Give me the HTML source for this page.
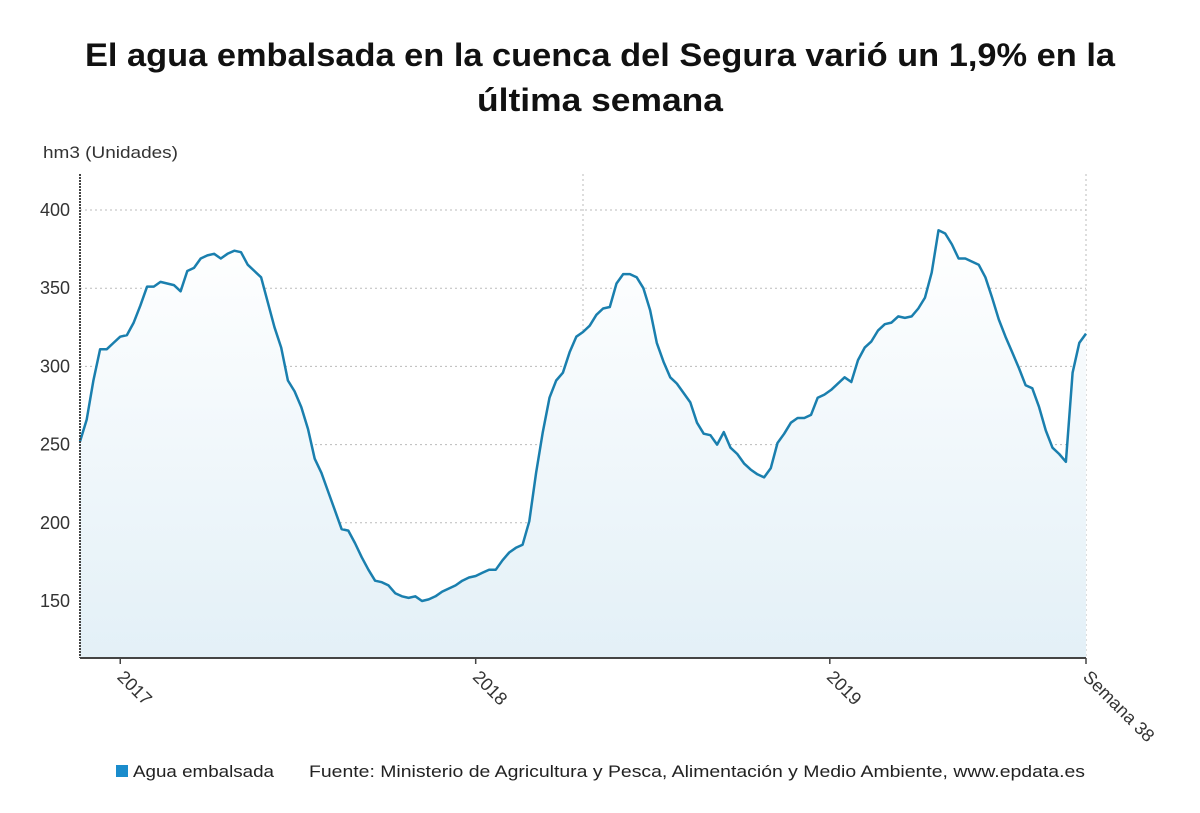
<!DOCTYPE html>
<html><head><meta charset="utf-8"><style>
body{margin:0;background:#fff;}
svg text{font-family:"Liberation Sans","DejaVu Sans",sans-serif;}
</style></head><body>
<svg id="c" width="1200" height="808" viewBox="0 0 1200 808" xmlns="http://www.w3.org/2000/svg">
<defs><linearGradient id="g" x1="0" y1="0" x2="0" y2="1"><stop offset="0" stop-color="#ffffff"/><stop offset="1" stop-color="#e3f0f7"/></linearGradient></defs>
<text x="85" y="66" textLength="1030" lengthAdjust="spacingAndGlyphs" font-size="32" font-weight="bold" fill="#111">El agua embalsada en la cuenca del Segura varió un 1,9% en la</text>
<text x="477" y="111" textLength="246" lengthAdjust="spacingAndGlyphs" font-size="32" font-weight="bold" fill="#111">última semana</text>
<text x="43" y="158" textLength="135" lengthAdjust="spacingAndGlyphs" font-size="17" fill="#333">hm3 (Unidades)</text>
<g id="grid"></g><g id="plot"></g><g id="axes"></g>
<rect x="116" y="765" width="12" height="12" fill="#1a8ccc"/>
<text x="133" y="777" textLength="141" lengthAdjust="spacingAndGlyphs" font-size="17" fill="#222">Agua embalsada</text>
<text x="309" y="777" textLength="776" lengthAdjust="spacingAndGlyphs" font-size="17" fill="#222">Fuente: Ministerio de Agricultura y Pesca, Alimentación y Medio Ambiente, www.epdata.es</text>
</svg>
<script>
const values=[252,266,291,311,311,315,319,320,328,339,351,351,354,353,352,348,361,363,369,371,372,369,372,374,373,365,361,357,341,325,312,291,284,274,260,241,232,220,208,196,195,187,178,170,163,162,160,155,153,152,153,150,151,153,156,158,160,163,165,166,168,170,170,176,181,184,186,201,232,258,280,291,296,309,319,322,326,333,337,338,353,359,359,357,350,336,315,303,293,289,283,277,264,257,256,250,258,248,244,238,234,231,229,235,251,257,264,267,267,269,280,282,285,289,293,290,304,312,316,323,327,328,332,331,332,337,344,360,387,385,378,369,369,367,365,357,344,330,319,309,299,288,286,274,259,248,244,239,296,315,321];
const yTicks=[150,200,250,300,350,400];
const xTickLabels=["2017","2018","2019","Semana 38"];
const xTickIdx=[6,59,111.8,150];
const NS="http://www.w3.org/2000/svg";
const X0=80,X1=1086,YB=658;
const n=values.length;
const xs=i=>X0+i*(X1-X0)/(n-1);
const ys=v=>601-(v-150)*(391/250);
function mk(t,a,p){const e=document.createElementNS(NS,t);for(const k in a)e.setAttribute(k,a[k]);p.appendChild(e);return e;}
const grid=document.getElementById('grid'),plot=document.getElementById('plot'),axes=document.getElementById('axes');
yTicks.forEach(v=>{
 const l=mk('line',{x1:X0,x2:X1,y1:ys(v),y2:ys(v),stroke:'#bbb','stroke-dasharray':'2,3'},grid);
 
 
 const t=mk('text',{x:70,y:ys(v)+6,'text-anchor':'end','font-size':18,fill:'#333'},axes);
 t.textContent=v;
 
 
});
[583,X1].forEach(x=>{
 const l=mk('line',{x1:x,x2:x,y1:174,y2:YB,stroke:'#bbb','stroke-dasharray':'2,3'},grid);
 
 
});
let d='';values.forEach((v,i)=>{d+=(i?'L':'M')+xs(i).toFixed(1)+','+ys(v).toFixed(1);});
const area=mk('path',{d:d+'L'+X1+','+YB+'L'+X0+','+YB+'Z',fill:'url(#g)'},plot);


const line=mk('path',{d:d,fill:'none',stroke:'#1a7fae','stroke-width':2.5,'stroke-linejoin':'round'},plot);


const ya=mk('line',{x1:X0,x2:X0,y1:174,y2:YB,stroke:'#444','stroke-width':2,'stroke-dasharray':'2,1'},axes);


const xa=mk('line',{x1:X0,x2:X1,y1:YB,y2:YB,stroke:'#444','stroke-width':2},axes);


xTickIdx.forEach((ix,k)=>{
 const x=xs(ix);
 const tk=mk('line',{x1:x,x2:x,y1:YB,y2:YB+6,stroke:'#444','stroke-width':1.5},axes);
 
 
 const t=mk('text',{x:x-4,y:YB+20,'font-size':18,fill:'#333',transform:'rotate(45 '+(x-4)+' '+(YB+20)+')'},axes);
 t.textContent=xTickLabels[k];
 
 
});
</script>
</body></html>
